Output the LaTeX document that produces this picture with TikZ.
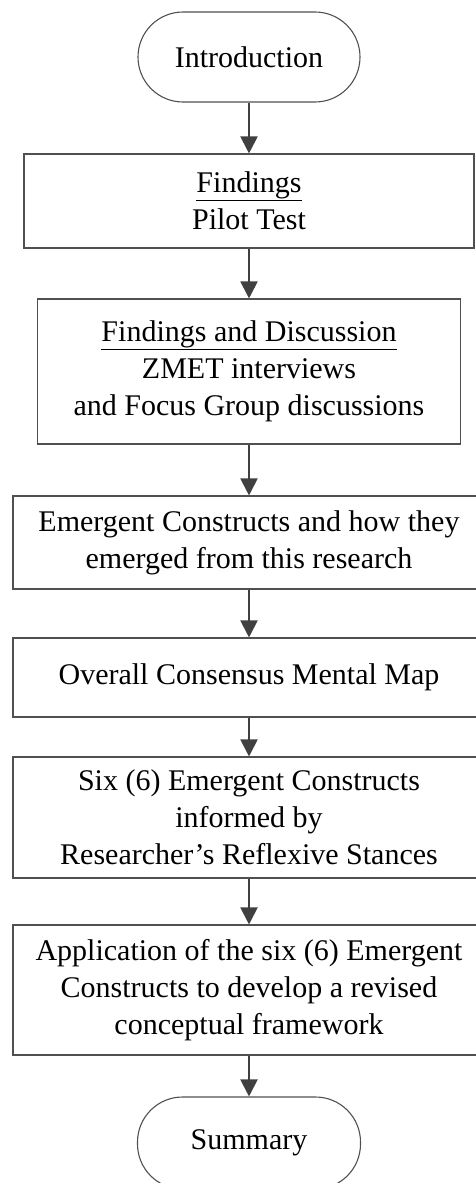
\documentclass[tikz,border=0pt]{standalone}
\usepackage{fontspec}
\setmainfont{Liberation Serif}
\usetikzlibrary{arrows.meta}
\definecolor{edge}{HTML}{505050}
\definecolor{arr}{HTML}{404040}
\begin{document}
\begin{tikzpicture}[x=1pt,y=-1pt,
  box/.style={draw=edge,line width=1.1pt,rectangle,inner sep=0pt,align=center,
    font=\fontsize{30}{37}\selectfont},
  term/.style={box,rounded corners=45pt},
  flow/.style={draw=arr,line width=2pt,-{Triangle[width=17pt,length=17pt]}}]
\useasboundingbox (0,0) rectangle (476,1183);
\node[term,minimum width=222pt,minimum height=90pt] (intro) at (249,57) {Introduction};
\node[box,minimum width=450pt,minimum height=94pt] (pilot) at (249,201)
  {\underline{Findings}\\Pilot Test};
\node[box,minimum width=423pt,minimum height=145pt] (fd) at (249,371.5)
  {\underline{Findings and Discussion}\\ZMET interviews\\and Focus Group discussions};
\node[box,minimum width=472pt,minimum height=93pt] (emer) at (249,542.5)
  {Emergent Constructs and how they\\emerged from this research};
\node[box,minimum width=472pt,minimum height=79pt] (over) at (249,677.5)
  {Overall Consensus Mental Map};
\node[box,minimum width=472pt,minimum height=121pt] (six) at (249,817.5)
  {Six (6) Emergent Constructs\\informed by\\Researcher’s Reflexive Stances};
\node[box,minimum width=472pt,minimum height=130pt] (app) at (249,990)
  {Application of the six (6) Emergent\\Constructs to develop a revised\\conceptual framework};
\node[term,minimum width=223pt,minimum height=92pt] (summ) at (249,1143) {Summary};
\draw[flow] (intro) -- (pilot);
\draw[flow] (pilot) -- (fd);
\draw[flow] (fd) -- (emer);
\draw[flow] (emer) -- (over);
\draw[flow] (over) -- (six);
\draw[flow] (six) -- (app);
\draw[flow] (app) -- (summ);
\end{tikzpicture}
\end{document}
